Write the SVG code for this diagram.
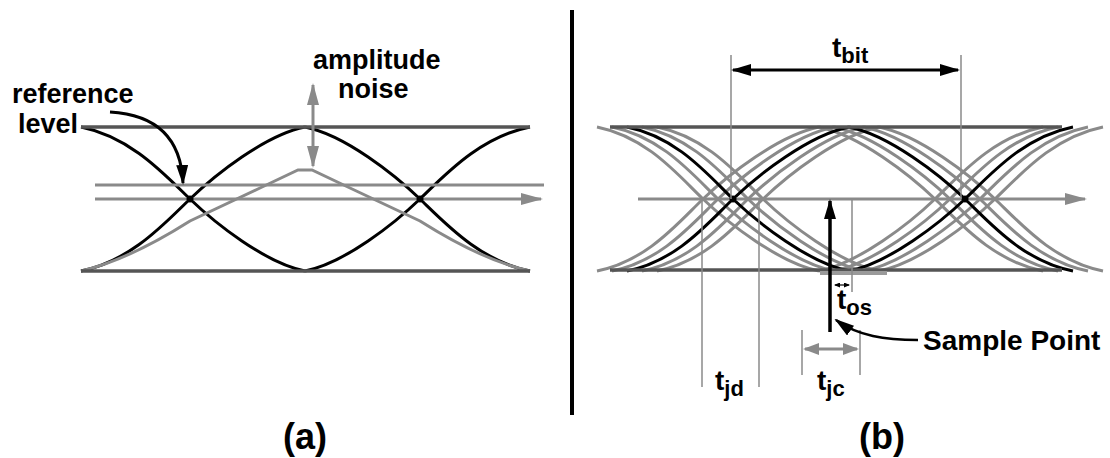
<svg xmlns="http://www.w3.org/2000/svg" width="1110" height="458" viewBox="0 0 1110 458">
<style>
.blk{fill:none;stroke:#000;stroke-width:3}
.gry{fill:none;stroke:#8a8a8a;stroke-width:3}
.rail{fill:none;stroke:#555;stroke-width:3.5}
.axis{fill:none;stroke:#8a8a8a;stroke-width:3}
.thin{fill:none;stroke:#8a8a8a;stroke-width:1.5}
.lbl{font-family:"Liberation Sans",Arial,Helvetica,sans-serif;font-weight:bold;font-size:28px;fill:#000}
.sm{font-size:27px}
.sub{font-size:22px}
.cap{font-size:36px}
</style>
<defs>
<marker id="ga" markerUnits="userSpaceOnUse" markerWidth="22" markerHeight="12" refX="20" refY="6" orient="auto-start-reverse"><path d="M0,0 L22,6 L0,12 z" fill="#8a8a8a"/></marker>
<marker id="gs" markerUnits="userSpaceOnUse" markerWidth="16" markerHeight="12" refX="14" refY="6" orient="auto-start-reverse"><path d="M0,0 L16,6 L0,12 z" fill="#8a8a8a"/></marker>
<marker id="ba" markerUnits="userSpaceOnUse" markerWidth="20" markerHeight="12" refX="18" refY="6" orient="auto-start-reverse"><path d="M0,0 L20,6 L0,12 z" fill="#000"/></marker>
<marker id="bs" markerUnits="userSpaceOnUse" markerWidth="6" markerHeight="5" refX="5" refY="2.5" orient="auto-start-reverse"><path d="M0,0 L6,2.5 L0,5 z" fill="#000"/></marker>
<g id="eyeB">
<path d="M627,127 C677,137 708,175 733,199 S809,263 849,271"/>
<path d="M627,271 C677,261 708,223 733,199 S809,135 849,127"/>
<path d="M849,127 C889,135 940,175 965,199 S1023,261 1073,271"/>
<path d="M849,271 C889,263 940,223 965,199 S1023,137 1073,127"/>
</g>
</defs>

<g id="panel-a">
<g id="eye-a" class="blk">
<path d="M81,127 C131,137 165,175 190,199 S265,263 305,271"/>
<path d="M81,271 C131,261 165,223 190,199 S265,135 305,127"/>
<path d="M305,127 C345,135 395,175 420,199 S480,261 530,271"/>
<path d="M305,271 C345,263 395,223 420,199 S480,137 530,127"/>
</g>
<path id="noisy-a" class="gry" d="M81,271 C120,262 160,240 190,221 L260,188 L298,170 L312,170 L350,188 L420,221 C450,240 490,262 530,271"/>
<g id="rails-a" class="rail">
<line x1="81" y1="127" x2="530" y2="127"/>
<line x1="81" y1="271" x2="530" y2="271"/>
</g>
<line id="ref-line" class="axis" x1="95" y1="185" x2="544" y2="185"/>
<line id="axis-a" class="axis" x1="95" y1="199" x2="541" y2="199" marker-end="url(#ga)"/>
<circle cx="190" cy="199" r="3.5" fill="#000"/>
<circle cx="420" cy="199" r="3.5" fill="#000"/>
</g>

<g id="label-reference">
<text class="lbl sm" x="12" y="103">reference</text>
<text class="lbl sm" x="18" y="133">level</text>
</g>
<g id="label-amplitude">
<text class="lbl sm" x="313" y="69">amplitude</text>
<text class="lbl sm" x="338" y="98">noise</text>
</g>

<g id="panel-b">
<g id="eye-b-gray" class="gry">
<use href="#eyeB" transform="translate(-30,0)"/>
<use href="#eyeB" transform="translate(-15,0)"/>
<use href="#eyeB" transform="translate(15,0)"/>
<use href="#eyeB" transform="translate(30,0)"/>
</g>
<use id="eye-b-black" href="#eyeB" class="blk"/>
<g id="rails-b" class="rail">
<line x1="610" y1="127" x2="1062" y2="127"/>
<line x1="610" y1="270" x2="1062" y2="270"/>
</g>
<rect x="820" y="271" width="67" height="4" fill="#9a9a9a"/>
<line id="axis-b" class="axis" x1="638" y1="199" x2="1085" y2="199" marker-end="url(#ga)"/>
<circle cx="733" cy="199" r="3.5" fill="#000"/>
<circle cx="965" cy="199" r="3.5" fill="#000"/>
</g>

<g id="connectors">
<path d="M110,112 Q180,116 183,183" fill="none" stroke="#000" stroke-width="3" marker-end="url(#ba)"/>
<line x1="313" y1="85" x2="313" y2="166" stroke="#8a8a8a" stroke-width="3" marker-start="url(#ga)" marker-end="url(#ga)"/>
<g class="thin">
<line x1="731" y1="55" x2="731" y2="199"/>
<line x1="961" y1="55" x2="961" y2="199"/>
<line x1="702" y1="199" x2="702" y2="387"/>
<line x1="759" y1="199" x2="759" y2="387"/>
<line x1="852" y1="199" x2="852" y2="292"/>
<line x1="802" y1="330" x2="802" y2="375"/>
<line x1="860" y1="330" x2="860" y2="375"/>
</g>
<line x1="733" y1="70" x2="958" y2="70" stroke="#000" stroke-width="3" marker-start="url(#ba)" marker-end="url(#ba)"/>
<line x1="830" y1="332" x2="830" y2="201" stroke="#000" stroke-width="3.5" marker-end="url(#ba)"/>
<line x1="835" y1="285" x2="849" y2="285" stroke="#000" stroke-width="1.2" marker-start="url(#bs)" marker-end="url(#bs)"/>
<line x1="805" y1="349" x2="857" y2="349" stroke="#8a8a8a" stroke-width="3" marker-start="url(#gs)" marker-end="url(#gs)"/>
<path d="M918,340 C885,340 858,336 836,320" fill="none" stroke="#000" stroke-width="2.5" marker-end="url(#ba)"/>
</g>

<g id="labels-b">
<text class="lbl" x="832" y="57">t<tspan class="sub" dy="6">bit</tspan></text>
<text class="lbl" x="837" y="309">t<tspan class="sub" dy="6">os</tspan></text>
<text class="lbl" x="923" y="350">Sample Point</text>
<text class="lbl" x="715" y="390">t<tspan class="sub" dy="6">jd</tspan></text>
<text class="lbl" x="817" y="390">t<tspan class="sub" dy="6">jc</tspan></text>
</g>

<rect id="divider" x="570" y="10" width="4" height="405" fill="#000"/>
<text class="lbl cap" x="305" y="449" text-anchor="middle">(a)</text>
<text class="lbl cap" x="882" y="449" text-anchor="middle">(b)</text>
</svg>
